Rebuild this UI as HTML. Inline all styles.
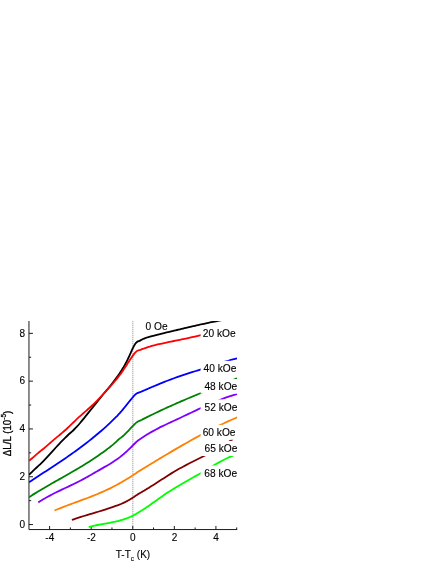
<!DOCTYPE html>
<html><head><meta charset="utf-8"><title>plot</title>
<style>
html,body{margin:0;padding:0;background:#fff;}
body{width:436px;height:564px;overflow:hidden;position:relative;}
svg{position:absolute;left:0;top:0;will-change:transform;}
text{font-family:"Liberation Sans",sans-serif;font-size:10px;fill:#000;stroke:#000;stroke-width:0.12px;}
.cl{font-size:10.2px;}
</style></head><body>
<svg width="436" height="564" viewBox="0 0 436 564">
<defs><clipPath id="plot"><rect x="28.96" y="321.00" width="208.24" height="208.55"/></clipPath></defs>
<line x1="132.80" y1="321.00" x2="132.80" y2="529.55" stroke="#ececec" stroke-width="1.5"/>
<line x1="132.80" y1="321.00" x2="132.80" y2="529.55" stroke="#b8b8b8" stroke-width="1.1" stroke-dasharray="1 1"/>
<path d="M28.96 321.00 V529.55 H237.20 M28.96 524.55 h4.00 M28.96 500.65 h2.20 M28.96 476.75 h4.00 M28.96 452.85 h2.20 M28.96 428.95 h4.00 M28.96 405.05 h2.20 M28.96 381.15 h4.00 M28.96 357.25 h2.20 M28.96 333.35 h4.00 M49.59 529.55 v-3.60 M70.38 529.55 v-2.10 M91.17 529.55 v-3.60 M111.96 529.55 v-2.10 M132.75 529.55 v-3.60 M153.54 529.55 v-2.10 M174.33 529.55 v-3.60 M195.12 529.55 v-2.10 M215.91 529.55 v-3.60 M236.70 529.55 v-2.10" stroke="#1c1c1c" stroke-width="1" fill="none"/>
<g clip-path="url(#plot)" fill="none" stroke-width="1.8" stroke-linejoin="round" stroke-linecap="butt">
<path d="M29.10 474.79 C29.60 474.29 31.10 472.78 32.10 471.81 C33.10 470.84 34.10 469.89 35.10 468.95 C36.10 468.00 37.10 467.08 38.10 466.14 C39.10 465.19 40.10 464.25 41.10 463.28 C42.10 462.31 43.10 461.32 44.10 460.30 C45.10 459.28 46.10 458.22 47.10 457.15 C48.10 456.08 49.10 454.99 50.10 453.89 C51.10 452.79 52.10 451.68 53.10 450.57 C54.10 449.46 55.10 448.35 56.10 447.26 C57.10 446.17 58.10 445.08 59.10 444.02 C60.10 442.95 61.10 441.90 62.10 440.87 C63.10 439.84 64.10 438.83 65.10 437.85 C66.10 436.87 67.10 435.92 68.10 434.99 C69.10 434.06 70.10 433.20 71.10 432.28 C72.10 431.36 73.10 430.47 74.10 429.49 C75.10 428.51 76.10 427.48 77.10 426.40 C78.10 425.32 79.10 424.16 80.10 422.99 C81.10 421.82 82.10 420.59 83.10 419.37 C84.10 418.15 85.10 416.89 86.10 415.65 C87.10 414.40 88.10 413.15 89.10 411.90 C90.10 410.65 91.10 409.38 92.10 408.13 C93.10 406.88 94.10 405.63 95.10 404.38 C96.10 403.13 97.10 401.88 98.10 400.64 C99.10 399.40 100.10 398.17 101.10 396.95 C102.10 395.73 103.10 394.51 104.10 393.30 C105.10 392.09 106.10 390.90 107.10 389.70 C108.10 388.50 109.10 387.31 110.10 386.08 C111.10 384.85 112.10 383.61 113.10 382.33 C114.10 381.05 115.28 379.49 116.10 378.39 C116.92 377.29 117.52 376.42 118.00 375.74 C118.48 375.06 118.67 374.78 119.00 374.29 C119.33 373.80 119.67 373.31 120.00 372.81 C120.33 372.31 120.67 371.79 121.00 371.27 C121.33 370.75 121.67 370.23 122.00 369.69 C122.33 369.15 122.67 368.61 123.00 368.06 C123.33 367.51 123.67 366.94 124.00 366.37 C124.33 365.80 124.67 365.21 125.00 364.61 C125.33 364.01 125.67 363.40 126.00 362.77 C126.33 362.14 126.67 361.50 127.00 360.84 C127.33 360.18 127.67 359.51 128.00 358.81 C128.33 358.11 128.67 357.39 129.00 356.66 C129.33 355.93 129.67 355.18 130.00 354.43 C130.33 353.68 130.67 352.93 131.00 352.18 C131.33 351.44 131.67 350.68 132.00 349.96 C132.33 349.24 132.67 348.53 133.00 347.86 C133.33 347.19 133.67 346.53 134.00 345.92 C134.33 345.31 134.67 344.73 135.00 344.22 C135.33 343.71 135.67 343.24 136.00 342.85 C136.33 342.47 136.67 342.16 137.00 341.91 C137.33 341.66 137.67 341.51 138.00 341.37 C138.33 341.23 138.67 341.16 139.00 341.04 C139.33 340.92 139.67 340.83 140.00 340.67 C140.33 340.51 140.67 340.31 141.00 340.11 C141.33 339.92 141.67 339.68 142.00 339.50 C142.33 339.32 142.67 339.18 143.00 339.03 C143.33 338.88 143.67 338.75 144.00 338.61 C144.33 338.47 144.67 338.34 145.00 338.21 C145.33 338.08 145.67 337.97 146.00 337.85 C146.33 337.74 146.67 337.63 147.00 337.52 C147.33 337.41 147.67 337.31 148.00 337.21 C148.33 337.11 148.67 337.01 149.00 336.91 C149.33 336.81 149.33 336.81 150.00 336.63 C150.67 336.45 152.00 336.10 153.00 335.84 C154.00 335.58 155.00 335.31 156.00 335.06 C157.00 334.81 158.00 334.56 159.00 334.31 C160.00 334.06 161.00 333.81 162.00 333.57 C163.00 333.32 164.00 333.08 165.00 332.84 C166.00 332.60 167.00 332.37 168.00 332.13 C169.00 331.89 170.00 331.66 171.00 331.42 C172.00 331.18 173.00 330.95 174.00 330.71 C175.00 330.47 176.00 330.24 177.00 330.00 C178.00 329.76 179.00 329.54 180.00 329.30 C181.00 329.06 182.00 328.83 183.00 328.59 C184.00 328.35 185.00 328.12 186.00 327.88 C187.00 327.64 188.00 327.41 189.00 327.18 C190.00 326.95 191.00 326.71 192.00 326.48 C193.00 326.25 194.00 326.02 195.00 325.79 C196.00 325.56 197.00 325.34 198.00 325.11 C199.00 324.88 200.00 324.66 201.00 324.44 C202.00 324.22 203.00 324.00 204.00 323.78 C205.00 323.56 206.00 323.34 207.00 323.13 C208.00 322.92 209.00 322.70 210.00 322.49 C211.00 322.28 212.00 322.07 213.00 321.87 C214.00 321.67 215.00 321.47 216.00 321.27 C217.00 321.07 218.00 320.88 219.00 320.69 C220.00 320.50 221.00 320.31 222.00 320.13 C223.00 319.95 224.00 319.77 225.00 319.59 C226.00 319.41 227.00 319.24 228.00 319.07 C229.00 318.90 230.00 318.74 231.00 318.58 C232.00 318.42 233.00 318.27 234.00 318.12 C235.00 317.97 236.50 317.75 237.00 317.68" stroke="#000000"/>
<path d="M29.10 460.73 C29.60 460.32 31.10 459.12 32.10 458.28 C33.10 457.43 34.10 456.53 35.10 455.66 C36.10 454.79 37.10 453.91 38.10 453.07 C39.10 452.23 40.10 451.44 41.10 450.63 C42.10 449.82 43.10 449.02 44.10 448.19 C45.10 447.36 46.10 446.50 47.10 445.64 C48.10 444.78 49.10 443.90 50.10 443.03 C51.10 442.16 52.10 441.28 53.10 440.42 C54.10 439.56 55.10 438.70 56.10 437.87 C57.10 437.04 58.10 436.24 59.10 435.42 C60.10 434.60 61.10 433.79 62.10 432.93 C63.10 432.07 64.10 431.19 65.10 430.28 C66.10 429.37 67.10 428.43 68.10 427.49 C69.10 426.55 70.10 425.58 71.10 424.62 C72.10 423.66 73.10 422.69 74.10 421.74 C75.10 420.79 76.10 419.82 77.10 418.89 C78.10 417.95 79.10 417.03 80.10 416.13 C81.10 415.23 82.10 414.36 83.10 413.48 C84.10 412.60 85.10 411.75 86.10 410.87 C87.10 409.99 88.10 409.12 89.10 408.22 C90.10 407.32 91.10 406.41 92.10 405.47 C93.10 404.53 94.10 403.56 95.10 402.57 C96.10 401.58 97.10 400.57 98.10 399.54 C99.10 398.51 100.10 397.46 101.10 396.40 C102.10 395.34 103.10 394.27 104.10 393.19 C105.10 392.11 106.10 391.01 107.10 389.92 C108.10 388.83 109.10 387.73 110.10 386.62 C111.10 385.51 112.10 384.40 113.10 383.25 C114.10 382.10 115.28 380.71 116.10 379.73 C116.92 378.75 117.52 377.99 118.00 377.38 C118.48 376.77 118.67 376.52 119.00 376.09 C119.33 375.65 119.67 375.22 120.00 374.77 C120.33 374.32 120.67 373.86 121.00 373.40 C121.33 372.94 121.67 372.47 122.00 371.99 C122.33 371.51 122.67 371.03 123.00 370.54 C123.33 370.05 123.67 369.55 124.00 369.04 C124.33 368.54 124.67 368.02 125.00 367.51 C125.33 367.00 125.67 366.47 126.00 365.95 C126.33 365.43 126.67 364.91 127.00 364.39 C127.33 363.87 127.67 363.35 128.00 362.83 C128.33 362.31 128.67 361.79 129.00 361.28 C129.33 360.77 129.67 360.25 130.00 359.75 C130.33 359.25 130.67 358.74 131.00 358.25 C131.33 357.76 131.67 357.27 132.00 356.79 C132.33 356.31 132.67 355.84 133.00 355.39 C133.33 354.94 133.67 354.49 134.00 354.07 C134.33 353.65 134.67 353.24 135.00 352.86 C135.33 352.48 135.67 352.11 136.00 351.80 C136.33 351.49 136.67 351.22 137.00 351.01 C137.33 350.80 137.67 350.66 138.00 350.53 C138.33 350.40 138.67 350.34 139.00 350.25 C139.33 350.16 139.67 350.10 140.00 350.00 C140.33 349.90 140.67 349.78 141.00 349.65 C141.33 349.52 141.67 349.34 142.00 349.21 C142.33 349.07 142.67 348.96 143.00 348.84 C143.33 348.72 143.67 348.59 144.00 348.47 C144.33 348.35 144.67 348.24 145.00 348.12 C145.33 348.00 145.67 347.89 146.00 347.78 C146.33 347.67 146.67 347.56 147.00 347.45 C147.33 347.34 147.67 347.23 148.00 347.13 C148.33 347.03 148.67 346.93 149.00 346.83 C149.33 346.73 149.33 346.72 150.00 346.53 C150.67 346.34 152.00 345.96 153.00 345.69 C154.00 345.42 155.00 345.17 156.00 344.92 C157.00 344.67 158.00 344.43 159.00 344.20 C160.00 343.97 161.00 343.75 162.00 343.53 C163.00 343.31 164.00 343.09 165.00 342.88 C166.00 342.67 167.00 342.45 168.00 342.24 C169.00 342.03 170.00 341.83 171.00 341.62 C172.00 341.41 173.00 341.20 174.00 341.00 C175.00 340.80 176.00 340.59 177.00 340.39 C178.00 340.19 179.00 339.99 180.00 339.78 C181.00 339.57 182.00 339.36 183.00 339.15 C184.00 338.94 185.00 338.73 186.00 338.52 C187.00 338.31 188.00 338.10 189.00 337.88 C190.00 337.66 191.00 337.44 192.00 337.22 C193.00 337.00 194.00 336.77 195.00 336.54 C196.00 336.31 197.00 336.07 198.00 335.83 C199.00 335.59 200.00 335.34 201.00 335.09 C202.00 334.84 203.17 334.54 204.00 334.32 C204.83 334.10 205.67 333.87 206.00 333.78" stroke="#ff0000"/>
<path d="M29.10 482.22 C29.60 481.89 31.10 480.89 32.10 480.23 C33.10 479.57 34.10 478.91 35.10 478.25 C36.10 477.59 37.10 476.93 38.10 476.28 C39.10 475.62 40.10 474.97 41.10 474.32 C42.10 473.67 43.10 473.01 44.10 472.36 C45.10 471.71 46.10 471.05 47.10 470.40 C48.10 469.75 49.10 469.09 50.10 468.43 C51.10 467.77 52.10 467.12 53.10 466.46 C54.10 465.80 55.10 465.13 56.10 464.47 C57.10 463.81 58.10 463.14 59.10 462.47 C60.10 461.80 61.10 461.13 62.10 460.45 C63.10 459.77 64.10 459.09 65.10 458.41 C66.10 457.73 67.10 457.04 68.10 456.35 C69.10 455.66 70.10 454.95 71.10 454.25 C72.10 453.55 73.10 452.84 74.10 452.12 C75.10 451.40 76.10 450.69 77.10 449.96 C78.10 449.23 79.10 448.50 80.10 447.76 C81.10 447.02 82.10 446.27 83.10 445.52 C84.10 444.76 85.10 444.00 86.10 443.23 C87.10 442.46 88.10 441.68 89.10 440.89 C90.10 440.10 91.10 439.30 92.10 438.49 C93.10 437.68 94.10 436.87 95.10 436.04 C96.10 435.21 97.10 434.38 98.10 433.53 C99.10 432.68 100.10 431.83 101.10 430.96 C102.10 430.09 103.10 429.21 104.10 428.32 C105.10 427.43 106.10 426.54 107.10 425.62 C108.10 424.70 109.10 423.77 110.10 422.83 C111.10 421.89 112.10 420.95 113.10 419.97 C114.10 418.99 115.28 417.80 116.10 416.97 C116.92 416.14 117.52 415.49 118.00 414.98 C118.48 414.47 118.67 414.27 119.00 413.91 C119.33 413.55 119.67 413.17 120.00 412.80 C120.33 412.43 120.67 412.05 121.00 411.67 C121.33 411.29 121.67 410.90 122.00 410.51 C122.33 410.12 122.67 409.73 123.00 409.33 C123.33 408.93 123.67 408.53 124.00 408.12 C124.33 407.71 124.67 407.30 125.00 406.89 C125.33 406.48 125.67 406.07 126.00 405.65 C126.33 405.23 126.67 404.81 127.00 404.39 C127.33 403.97 127.67 403.55 128.00 403.13 C128.33 402.71 128.67 402.28 129.00 401.86 C129.33 401.44 129.67 401.03 130.00 400.61 C130.33 400.19 130.67 399.78 131.00 399.37 C131.33 398.96 131.67 398.56 132.00 398.17 C132.33 397.78 132.67 397.40 133.00 397.03 C133.33 396.66 133.67 396.30 134.00 395.96 C134.33 395.62 134.67 395.29 135.00 394.97 C135.33 394.66 135.67 394.34 136.00 394.07 C136.33 393.80 136.67 393.56 137.00 393.35 C137.33 393.14 137.67 392.98 138.00 392.83 C138.33 392.68 138.67 392.58 139.00 392.46 C139.33 392.34 139.67 392.25 140.00 392.13 C140.33 392.01 140.67 391.89 141.00 391.76 C141.33 391.63 141.67 391.47 142.00 391.33 C142.33 391.19 142.67 391.04 143.00 390.90 C143.33 390.75 143.67 390.61 144.00 390.46 C144.33 390.31 144.67 390.16 145.00 390.02 C145.33 389.88 145.67 389.73 146.00 389.59 C146.33 389.44 146.67 389.29 147.00 389.15 C147.33 389.00 147.67 388.86 148.00 388.72 C148.33 388.58 148.67 388.43 149.00 388.29 C149.33 388.15 149.33 388.15 150.00 387.86 C150.67 387.57 152.00 387.00 153.00 386.57 C154.00 386.14 155.00 385.73 156.00 385.31 C157.00 384.89 158.00 384.47 159.00 384.06 C160.00 383.65 161.00 383.23 162.00 382.83 C163.00 382.43 164.00 382.03 165.00 381.64 C166.00 381.25 167.00 380.85 168.00 380.47 C169.00 380.09 170.00 379.71 171.00 379.34 C172.00 378.97 173.00 378.61 174.00 378.25 C175.00 377.89 176.00 377.54 177.00 377.19 C178.00 376.84 179.00 376.49 180.00 376.15 C181.00 375.81 182.00 375.47 183.00 375.14 C184.00 374.81 185.00 374.48 186.00 374.15 C187.00 373.82 188.00 373.49 189.00 373.17 C190.00 372.85 191.00 372.53 192.00 372.21 C193.00 371.89 194.00 371.57 195.00 371.25 C196.00 370.93 197.00 370.61 198.00 370.29 C199.00 369.97 200.00 369.65 201.00 369.33 C202.00 369.01 203.00 368.68 204.00 368.36 C205.00 368.04 206.00 367.71 207.00 367.39 C208.00 367.07 209.00 366.75 210.00 366.43 C211.00 366.11 212.00 365.78 213.00 365.46 C214.00 365.14 215.00 364.82 216.00 364.51 C217.00 364.19 218.00 363.88 219.00 363.57 C220.00 363.26 221.00 362.95 222.00 362.64 C223.00 362.33 224.00 362.03 225.00 361.73 C226.00 361.43 227.00 361.13 228.00 360.84 C229.00 360.55 230.00 360.25 231.00 359.97 C232.00 359.69 233.00 359.41 234.00 359.14 C235.00 358.87 236.50 358.47 237.00 358.34" stroke="#0000ff"/>
<path d="M29.10 497.26 C29.60 496.93 31.10 495.94 32.10 495.29 C33.10 494.64 34.10 494.01 35.10 493.38 C36.10 492.75 37.10 492.12 38.10 491.51 C39.10 490.89 40.10 490.29 41.10 489.69 C42.10 489.09 43.10 488.50 44.10 487.91 C45.10 487.32 46.10 486.74 47.10 486.16 C48.10 485.58 49.10 485.00 50.10 484.43 C51.10 483.86 52.10 483.30 53.10 482.73 C54.10 482.17 55.10 481.60 56.10 481.04 C57.10 480.48 58.10 479.91 59.10 479.35 C60.10 478.79 61.10 478.23 62.10 477.67 C63.10 477.11 64.10 476.54 65.10 475.98 C66.10 475.42 67.10 474.86 68.10 474.29 C69.10 473.72 70.10 473.15 71.10 472.58 C72.10 472.00 73.10 471.42 74.10 470.84 C75.10 470.26 76.10 469.67 77.10 469.08 C78.10 468.49 79.10 467.90 80.10 467.29 C81.10 466.69 82.10 466.07 83.10 465.45 C84.10 464.83 85.10 464.21 86.10 463.58 C87.10 462.95 88.10 462.31 89.10 461.66 C90.10 461.02 91.10 460.37 92.10 459.71 C93.10 459.05 94.10 458.38 95.10 457.70 C96.10 457.02 97.10 456.34 98.10 455.65 C99.10 454.96 100.10 454.26 101.10 453.55 C102.10 452.84 103.10 452.13 104.10 451.40 C105.10 450.67 106.10 449.94 107.10 449.19 C108.10 448.44 109.10 447.70 110.10 446.93 C111.10 446.16 112.10 445.41 113.10 444.57 C114.10 443.73 115.28 442.64 116.10 441.88 C116.92 441.12 117.52 440.47 118.00 440.02 C118.48 439.57 118.67 439.43 119.00 439.16 C119.33 438.89 119.67 438.64 120.00 438.39 C120.33 438.14 120.67 437.89 121.00 437.64 C121.33 437.38 121.67 437.13 122.00 436.86 C122.33 436.59 122.67 436.30 123.00 436.01 C123.33 435.72 123.67 435.42 124.00 435.11 C124.33 434.80 124.67 434.49 125.00 434.17 C125.33 433.85 125.67 433.52 126.00 433.18 C126.33 432.84 126.67 432.50 127.00 432.15 C127.33 431.80 127.67 431.45 128.00 431.10 C128.33 430.75 128.67 430.39 129.00 430.03 C129.33 429.67 129.67 429.30 130.00 428.94 C130.33 428.58 130.67 428.22 131.00 427.86 C131.33 427.50 131.67 427.14 132.00 426.79 C132.33 426.44 132.67 426.09 133.00 425.75 C133.33 425.41 133.67 425.08 134.00 424.75 C134.33 424.42 134.67 424.10 135.00 423.79 C135.33 423.48 135.67 423.17 136.00 422.90 C136.33 422.62 136.67 422.37 137.00 422.14 C137.33 421.91 137.67 421.71 138.00 421.53 C138.33 421.35 138.67 421.20 139.00 421.05 C139.33 420.90 139.67 420.77 140.00 420.62 C140.33 420.47 140.67 420.33 141.00 420.17 C141.33 420.01 141.67 419.85 142.00 419.68 C142.33 419.51 142.67 419.33 143.00 419.16 C143.33 418.99 143.67 418.82 144.00 418.65 C144.33 418.48 144.67 418.32 145.00 418.15 C145.33 417.98 145.67 417.81 146.00 417.64 C146.33 417.47 146.67 417.31 147.00 417.14 C147.33 416.97 147.67 416.81 148.00 416.64 C148.33 416.47 148.67 416.31 149.00 416.15 C149.33 415.99 149.33 415.99 150.00 415.66 C150.67 415.33 152.00 414.68 153.00 414.19 C154.00 413.70 155.00 413.23 156.00 412.75 C157.00 412.27 158.00 411.79 159.00 411.32 C160.00 410.85 161.00 410.38 162.00 409.92 C163.00 409.46 164.00 408.99 165.00 408.53 C166.00 408.07 167.00 407.62 168.00 407.17 C169.00 406.72 170.00 406.26 171.00 405.81 C172.00 405.36 173.00 404.92 174.00 404.48 C175.00 404.04 176.00 403.60 177.00 403.16 C178.00 402.72 179.00 402.29 180.00 401.85 C181.00 401.42 182.00 400.98 183.00 400.55 C184.00 400.12 185.00 399.69 186.00 399.27 C187.00 398.84 188.00 398.42 189.00 398.00 C190.00 397.58 191.00 397.15 192.00 396.73 C193.00 396.31 194.00 395.90 195.00 395.48 C196.00 395.06 197.00 394.65 198.00 394.23 C199.00 393.81 200.00 393.40 201.00 392.99 C202.00 392.58 203.00 392.16 204.00 391.75 C205.00 391.34 206.00 390.93 207.00 390.52 C208.00 390.11 209.00 389.70 210.00 389.29 C211.00 388.88 212.00 388.47 213.00 388.06 C214.00 387.65 215.00 387.25 216.00 386.84 C217.00 386.43 218.00 386.02 219.00 385.61 C220.00 385.20 221.00 384.80 222.00 384.39 C223.00 383.98 224.00 383.57 225.00 383.16 C226.00 382.75 227.00 382.34 228.00 381.93 C229.00 381.52 230.00 381.11 231.00 380.70 C232.00 380.29 233.00 379.87 234.00 379.46 C235.00 379.05 236.50 378.43 237.00 378.22" stroke="#008000"/>
<path d="M38.30 502.37 C38.80 502.05 40.30 501.09 41.30 500.47 C42.30 499.86 43.30 499.26 44.30 498.68 C45.30 498.10 46.30 497.53 47.30 496.98 C48.30 496.43 49.30 495.89 50.30 495.36 C51.30 494.83 52.30 494.32 53.30 493.81 C54.30 493.30 55.30 492.80 56.30 492.31 C57.30 491.82 58.30 491.34 59.30 490.86 C60.30 490.38 61.30 489.91 62.30 489.43 C63.30 488.95 64.30 488.48 65.30 488.01 C66.30 487.54 67.30 487.07 68.30 486.60 C69.30 486.13 70.30 485.66 71.30 485.18 C72.30 484.70 73.30 484.22 74.30 483.73 C75.30 483.24 76.30 482.75 77.30 482.24 C78.30 481.73 79.30 481.21 80.30 480.69 C81.30 480.17 82.30 479.64 83.30 479.10 C84.30 478.56 85.30 478.01 86.30 477.46 C87.30 476.91 88.30 476.34 89.30 475.78 C90.30 475.21 91.30 474.64 92.30 474.07 C93.30 473.50 94.30 472.92 95.30 472.34 C96.30 471.76 97.30 471.19 98.30 470.61 C99.30 470.03 100.30 469.45 101.30 468.87 C102.30 468.29 103.30 467.72 104.30 467.15 C105.30 466.58 106.30 466.01 107.30 465.43 C108.30 464.85 109.30 464.27 110.30 463.67 C111.30 463.07 112.30 462.45 113.30 461.81 C114.30 461.17 115.52 460.35 116.30 459.82 C117.08 459.29 117.55 458.94 118.00 458.61 C118.45 458.28 118.67 458.11 119.00 457.86 C119.33 457.61 119.67 457.35 120.00 457.09 C120.33 456.83 120.67 456.57 121.00 456.30 C121.33 456.03 121.67 455.75 122.00 455.48 C122.33 455.21 122.67 454.93 123.00 454.65 C123.33 454.37 123.67 454.08 124.00 453.79 C124.33 453.50 124.67 453.21 125.00 452.91 C125.33 452.61 125.67 452.31 126.00 452.01 C126.33 451.71 126.67 451.41 127.00 451.10 C127.33 450.79 127.67 450.48 128.00 450.16 C128.33 449.85 128.67 449.53 129.00 449.21 C129.33 448.89 129.67 448.57 130.00 448.25 C130.33 447.93 130.67 447.59 131.00 447.26 C131.33 446.93 131.67 446.59 132.00 446.26 C132.33 445.93 132.67 445.59 133.00 445.25 C133.33 444.91 133.67 444.57 134.00 444.24 C134.33 443.91 134.67 443.58 135.00 443.25 C135.33 442.92 135.67 442.58 136.00 442.26 C136.33 441.94 136.67 441.63 137.00 441.34 C137.33 441.05 137.67 440.78 138.00 440.52 C138.33 440.26 138.67 440.03 139.00 439.80 C139.33 439.57 139.67 439.36 140.00 439.14 C140.33 438.92 140.67 438.70 141.00 438.48 C141.33 438.26 141.67 438.03 142.00 437.81 C142.33 437.59 142.67 437.36 143.00 437.14 C143.33 436.92 143.67 436.70 144.00 436.48 C144.33 436.26 144.67 436.05 145.00 435.84 C145.33 435.63 145.67 435.42 146.00 435.21 C146.33 435.00 146.67 434.79 147.00 434.59 C147.33 434.38 147.67 434.18 148.00 433.98 C148.33 433.78 148.67 433.58 149.00 433.38 C149.33 433.18 149.33 433.17 150.00 432.79 C150.67 432.41 152.00 431.64 153.00 431.09 C154.00 430.54 155.00 430.00 156.00 429.47 C157.00 428.94 158.00 428.43 159.00 427.92 C160.00 427.41 161.00 426.92 162.00 426.43 C163.00 425.94 164.00 425.46 165.00 424.98 C166.00 424.50 167.00 424.03 168.00 423.56 C169.00 423.09 170.00 422.62 171.00 422.15 C172.00 421.68 173.00 421.22 174.00 420.76 C175.00 420.30 176.00 419.83 177.00 419.36 C178.00 418.89 179.00 418.42 180.00 417.95 C181.00 417.48 182.00 417.00 183.00 416.52 C184.00 416.04 185.00 415.58 186.00 415.10 C187.00 414.62 188.00 414.15 189.00 413.67 C190.00 413.19 191.00 412.72 192.00 412.24 C193.00 411.76 194.00 411.29 195.00 410.82 C196.00 410.35 197.00 409.88 198.00 409.41 C199.00 408.94 200.00 408.48 201.00 408.02 C202.00 407.56 203.00 407.09 204.00 406.64 C205.00 406.19 206.00 405.74 207.00 405.29 C208.00 404.85 209.00 404.41 210.00 403.97 C211.00 403.54 212.00 403.10 213.00 402.68 C214.00 402.26 215.00 401.84 216.00 401.43 C217.00 401.02 218.00 400.61 219.00 400.21 C220.00 399.81 221.00 399.43 222.00 399.05 C223.00 398.67 224.00 398.30 225.00 397.93 C226.00 397.56 227.00 397.21 228.00 396.86 C229.00 396.51 230.00 396.18 231.00 395.85 C232.00 395.53 233.00 395.21 234.00 394.91 C235.00 394.61 236.42 394.20 237.00 394.03 C237.58 393.86 237.42 393.91 237.50 393.89" stroke="#8000ff"/>
<path d="M54.50 510.52 C55.00 510.31 56.50 509.67 57.50 509.26 C58.50 508.85 59.50 508.45 60.50 508.05 C61.50 507.65 62.50 507.26 63.50 506.87 C64.50 506.48 65.50 506.10 66.50 505.72 C67.50 505.34 68.50 504.97 69.50 504.60 C70.50 504.23 71.50 503.87 72.50 503.50 C73.50 503.13 74.50 502.76 75.50 502.40 C76.50 502.03 77.50 501.67 78.50 501.31 C79.50 500.95 80.50 500.59 81.50 500.22 C82.50 499.86 83.50 499.49 84.50 499.12 C85.50 498.75 86.50 498.38 87.50 498.00 C88.50 497.62 89.50 497.24 90.50 496.85 C91.50 496.46 92.50 496.08 93.50 495.68 C94.50 495.28 95.50 494.87 96.50 494.46 C97.50 494.05 98.50 493.63 99.50 493.20 C100.50 492.77 101.50 492.33 102.50 491.89 C103.50 491.44 104.50 490.99 105.50 490.53 C106.50 490.06 107.50 489.59 108.50 489.10 C109.50 488.61 110.50 488.12 111.50 487.61 C112.50 487.10 113.50 486.59 114.50 486.06 C115.50 485.53 116.92 484.76 117.50 484.45 C118.08 484.14 117.75 484.32 118.00 484.18 C118.25 484.04 118.67 483.81 119.00 483.62 C119.33 483.43 119.67 483.25 120.00 483.06 C120.33 482.87 120.67 482.69 121.00 482.50 C121.33 482.31 121.67 482.12 122.00 481.93 C122.33 481.74 122.67 481.55 123.00 481.35 C123.33 481.16 123.67 480.96 124.00 480.76 C124.33 480.56 124.67 480.37 125.00 480.17 C125.33 479.97 125.67 479.77 126.00 479.57 C126.33 479.37 126.67 479.17 127.00 478.97 C127.33 478.77 127.67 478.56 128.00 478.36 C128.33 478.16 128.67 477.95 129.00 477.74 C129.33 477.53 129.67 477.33 130.00 477.12 C130.33 476.91 130.67 476.70 131.00 476.49 C131.33 476.28 131.67 476.06 132.00 475.85 C132.33 475.64 132.67 475.42 133.00 475.21 C133.33 475.00 133.67 474.78 134.00 474.56 C134.33 474.34 134.67 474.12 135.00 473.90 C135.33 473.68 135.67 473.46 136.00 473.23 C136.33 473.00 136.67 472.77 137.00 472.54 C137.33 472.31 137.67 472.08 138.00 471.86 C138.33 471.64 138.67 471.41 139.00 471.20 C139.33 470.99 139.67 470.78 140.00 470.57 C140.33 470.36 140.67 470.16 141.00 469.96 C141.33 469.76 141.67 469.56 142.00 469.36 C142.33 469.16 142.67 468.95 143.00 468.75 C143.33 468.55 143.67 468.34 144.00 468.14 C144.33 467.94 144.67 467.73 145.00 467.53 C145.33 467.33 145.67 467.12 146.00 466.92 C146.33 466.72 146.67 466.51 147.00 466.31 C147.33 466.11 147.67 465.90 148.00 465.70 C148.33 465.50 148.67 465.29 149.00 465.09 C149.33 464.89 149.33 464.89 150.00 464.49 C150.67 464.09 152.00 463.28 153.00 462.67 C154.00 462.06 155.00 461.46 156.00 460.85 C157.00 460.25 158.00 459.64 159.00 459.04 C160.00 458.44 161.00 457.83 162.00 457.23 C163.00 456.63 164.00 456.04 165.00 455.44 C166.00 454.84 167.00 454.25 168.00 453.65 C169.00 453.05 170.00 452.46 171.00 451.87 C172.00 451.28 173.00 450.69 174.00 450.10 C175.00 449.51 176.00 448.93 177.00 448.35 C178.00 447.77 179.00 447.19 180.00 446.61 C181.00 446.03 182.00 445.45 183.00 444.88 C184.00 444.31 185.00 443.73 186.00 443.16 C187.00 442.59 188.00 442.03 189.00 441.47 C190.00 440.91 191.00 440.35 192.00 439.79 C193.00 439.23 194.00 438.68 195.00 438.13 C196.00 437.58 197.00 437.03 198.00 436.49 C199.00 435.95 200.00 435.41 201.00 434.87 C202.00 434.33 203.00 433.80 204.00 433.27 C205.00 432.74 206.00 432.21 207.00 431.69 C208.00 431.17 209.00 430.65 210.00 430.14 C211.00 429.63 212.00 429.12 213.00 428.61 C214.00 428.11 215.00 427.61 216.00 427.11 C217.00 426.62 218.00 426.13 219.00 425.64 C220.00 425.15 221.00 424.67 222.00 424.19 C223.00 423.71 224.00 423.25 225.00 422.78 C226.00 422.31 227.00 421.85 228.00 421.39 C229.00 420.93 230.00 420.49 231.00 420.04 C232.00 419.60 233.00 419.16 234.00 418.72 C235.00 418.29 236.50 417.64 237.00 417.43" stroke="#ff8000"/>
<path d="M71.90 519.96 C72.40 519.79 73.90 519.25 74.90 518.91 C75.90 518.57 76.90 518.24 77.90 517.91 C78.90 517.58 79.90 517.26 80.90 516.94 C81.90 516.62 82.90 516.31 83.90 516.00 C84.90 515.69 85.90 515.39 86.90 515.09 C87.90 514.79 88.90 514.49 89.90 514.19 C90.90 513.89 91.90 513.59 92.90 513.29 C93.90 512.99 94.90 512.70 95.90 512.40 C96.90 512.10 97.90 511.80 98.90 511.50 C99.90 511.20 100.90 510.89 101.90 510.58 C102.90 510.27 103.90 509.96 104.90 509.65 C105.90 509.33 106.90 509.02 107.90 508.69 C108.90 508.36 109.90 508.03 110.90 507.69 C111.90 507.35 112.90 507.01 113.90 506.66 C114.90 506.31 116.22 505.82 116.90 505.57 C117.58 505.32 117.65 505.29 118.00 505.16 C118.35 505.03 118.67 504.90 119.00 504.77 C119.33 504.64 119.67 504.50 120.00 504.37 C120.33 504.24 120.67 504.10 121.00 503.96 C121.33 503.82 121.67 503.68 122.00 503.54 C122.33 503.40 122.67 503.25 123.00 503.10 C123.33 502.95 123.67 502.79 124.00 502.63 C124.33 502.47 124.67 502.31 125.00 502.15 C125.33 501.98 125.67 501.81 126.00 501.64 C126.33 501.47 126.67 501.30 127.00 501.12 C127.33 500.94 127.67 500.76 128.00 500.57 C128.33 500.38 128.67 500.19 129.00 500.00 C129.33 499.81 129.67 499.61 130.00 499.41 C130.33 499.21 130.67 499.01 131.00 498.81 C131.33 498.61 131.67 498.40 132.00 498.19 C132.33 497.98 132.67 497.76 133.00 497.55 C133.33 497.34 133.67 497.12 134.00 496.90 C134.33 496.68 134.67 496.46 135.00 496.24 C135.33 496.02 135.67 495.79 136.00 495.56 C136.33 495.33 136.67 495.10 137.00 494.88 C137.33 494.66 137.67 494.44 138.00 494.23 C138.33 494.02 138.67 493.81 139.00 493.61 C139.33 493.41 139.67 493.23 140.00 493.04 C140.33 492.85 140.67 492.66 141.00 492.47 C141.33 492.28 141.67 492.09 142.00 491.90 C142.33 491.71 142.67 491.51 143.00 491.31 C143.33 491.11 143.67 490.91 144.00 490.71 C144.33 490.51 144.67 490.31 145.00 490.11 C145.33 489.91 145.67 489.70 146.00 489.50 C146.33 489.30 146.67 489.09 147.00 488.89 C147.33 488.69 147.67 488.48 148.00 488.28 C148.33 488.07 148.67 487.87 149.00 487.66 C149.33 487.45 149.33 487.46 150.00 487.04 C150.67 486.62 152.00 485.78 153.00 485.15 C154.00 484.51 155.00 483.87 156.00 483.23 C157.00 482.59 158.00 481.94 159.00 481.29 C160.00 480.64 161.00 480.00 162.00 479.35 C163.00 478.71 164.00 478.06 165.00 477.42 C166.00 476.78 167.00 476.14 168.00 475.51 C169.00 474.88 170.00 474.25 171.00 473.63 C172.00 473.01 173.00 472.40 174.00 471.80 C175.00 471.20 176.00 470.61 177.00 470.03 C178.00 469.45 179.00 468.89 180.00 468.33 C181.00 467.77 182.00 467.23 183.00 466.69 C184.00 466.15 185.00 465.62 186.00 465.10 C187.00 464.58 188.00 464.06 189.00 463.55 C190.00 463.04 191.00 462.53 192.00 462.03 C193.00 461.52 194.00 461.02 195.00 460.52 C196.00 460.02 197.00 459.53 198.00 459.03 C199.00 458.53 200.00 458.03 201.00 457.53 C202.00 457.03 203.00 456.53 204.00 456.03 C205.00 455.52 206.00 455.01 207.00 454.50 C208.00 453.99 209.00 453.46 210.00 452.94 C211.00 452.42 212.00 451.89 213.00 451.35 C214.00 450.81 215.00 450.26 216.00 449.70 C217.00 449.14 218.00 448.57 219.00 447.99 C220.00 447.41 221.00 446.82 222.00 446.21 C223.00 445.60 224.00 444.99 225.00 444.35 C226.00 443.72 227.00 443.07 228.00 442.40 C229.00 441.73 230.17 440.93 231.00 440.35 C231.83 439.77 232.67 439.16 233.00 438.92" stroke="#800000"/>
<path d="M88.70 527.15 C89.20 527.01 90.70 526.59 91.70 526.34 C92.70 526.09 93.70 525.85 94.70 525.63 C95.70 525.41 96.70 525.20 97.70 525.00 C98.70 524.80 99.70 524.61 100.70 524.42 C101.70 524.23 102.70 524.05 103.70 523.87 C104.70 523.69 105.70 523.52 106.70 523.34 C107.70 523.16 108.70 522.98 109.70 522.79 C110.70 522.60 111.70 522.41 112.70 522.20 C113.70 522.00 114.82 521.76 115.70 521.56 C116.58 521.36 117.45 521.14 118.00 521.01 C118.55 520.88 118.67 520.85 119.00 520.76 C119.33 520.67 119.67 520.58 120.00 520.49 C120.33 520.40 120.67 520.31 121.00 520.21 C121.33 520.12 121.67 520.02 122.00 519.92 C122.33 519.82 122.67 519.72 123.00 519.61 C123.33 519.50 123.67 519.40 124.00 519.29 C124.33 519.18 124.67 519.08 125.00 518.96 C125.33 518.85 125.67 518.72 126.00 518.60 C126.33 518.48 126.67 518.36 127.00 518.23 C127.33 518.10 127.67 517.97 128.00 517.84 C128.33 517.71 128.67 517.57 129.00 517.43 C129.33 517.29 129.67 517.15 130.00 517.00 C130.33 516.85 130.67 516.70 131.00 516.55 C131.33 516.40 131.67 516.24 132.00 516.08 C132.33 515.92 132.67 515.75 133.00 515.58 C133.33 515.41 133.67 515.25 134.00 515.07 C134.33 514.89 134.67 514.72 135.00 514.53 C135.33 514.34 135.67 514.15 136.00 513.95 C136.33 513.75 136.67 513.55 137.00 513.35 C137.33 513.15 137.67 512.94 138.00 512.74 C138.33 512.54 138.67 512.33 139.00 512.13 C139.33 511.93 139.67 511.73 140.00 511.53 C140.33 511.33 140.67 511.13 141.00 510.93 C141.33 510.73 141.67 510.53 142.00 510.32 C142.33 510.11 142.67 509.90 143.00 509.69 C143.33 509.48 143.67 509.26 144.00 509.04 C144.33 508.82 144.67 508.60 145.00 508.38 C145.33 508.16 145.67 507.94 146.00 507.71 C146.33 507.48 146.67 507.26 147.00 507.03 C147.33 506.80 147.67 506.57 148.00 506.34 C148.33 506.11 148.67 505.88 149.00 505.65 C149.33 505.42 149.33 505.42 150.00 504.95 C150.67 504.48 152.00 503.53 153.00 502.82 C154.00 502.11 155.00 501.39 156.00 500.67 C157.00 499.95 158.00 499.23 159.00 498.52 C160.00 497.81 161.00 497.11 162.00 496.41 C163.00 495.72 164.00 495.03 165.00 494.35 C166.00 493.68 167.00 493.01 168.00 492.36 C169.00 491.71 170.00 491.06 171.00 490.43 C172.00 489.80 173.00 489.18 174.00 488.56 C175.00 487.94 176.00 487.34 177.00 486.74 C178.00 486.14 179.00 485.55 180.00 484.96 C181.00 484.37 182.00 483.80 183.00 483.22 C184.00 482.64 185.00 482.07 186.00 481.50 C187.00 480.93 188.00 480.36 189.00 479.79 C190.00 479.22 191.00 478.66 192.00 478.09 C193.00 477.52 194.00 476.96 195.00 476.39 C196.00 475.82 197.00 475.25 198.00 474.67 C199.00 474.09 200.00 473.51 201.00 472.92 C202.00 472.33 203.00 471.74 204.00 471.14 C205.00 470.54 206.00 469.94 207.00 469.34 C208.00 468.74 209.00 468.14 210.00 467.54 C211.00 466.94 212.00 466.35 213.00 465.76 C214.00 465.17 215.00 464.59 216.00 464.02 C217.00 463.45 218.00 462.89 219.00 462.34 C220.00 461.79 221.00 461.25 222.00 460.72 C223.00 460.20 224.00 459.69 225.00 459.19 C226.00 458.69 227.00 458.21 228.00 457.74 C229.00 457.27 230.00 456.83 231.00 456.39 C232.00 455.95 233.00 455.53 234.00 455.12 C235.00 454.71 236.50 454.14 237.00 453.95" stroke="#00ff00"/>
</g>
<g fill="#fff">
<rect x="200.60" y="325.60" width="41.40" height="14.80"/>
<rect x="200.60" y="360.80" width="41.40" height="14.80"/>
<rect x="200.60" y="379.05" width="41.40" height="14.55"/>
<rect x="200.60" y="399.40" width="41.40" height="15.10"/>
<rect x="200.60" y="424.90" width="41.40" height="14.90"/>
<rect x="200.60" y="440.90" width="41.40" height="15.10"/>
<rect x="200.60" y="465.50" width="41.40" height="15.00"/>
</g>
<text x="25.15" y="527.80" text-anchor="end">0</text>
<text x="25.15" y="480.00" text-anchor="end">2</text>
<text x="25.15" y="432.20" text-anchor="end">4</text>
<text x="25.15" y="384.40" text-anchor="end">6</text>
<text x="25.15" y="336.60" text-anchor="end">8</text>
<text x="49.79" y="541.3" text-anchor="middle">-4</text>
<text x="91.37" y="541.3" text-anchor="middle">-2</text>
<text x="132.85" y="541.3" text-anchor="middle">0</text>
<text x="174.43" y="541.3" text-anchor="middle">2</text>
<text x="216.01" y="541.3" text-anchor="middle">4</text>
<text class="cl" x="145.50" y="329.50">0 Oe</text>
<text class="cl" x="202.80" y="336.60">20 kOe</text>
<text class="cl" x="203.60" y="371.60">40 kOe</text>
<text class="cl" x="204.40" y="390.10">48 kOe</text>
<text class="cl" x="204.60" y="410.60">52 kOe</text>
<text class="cl" x="202.70" y="436.00">60 kOe</text>
<text class="cl" x="204.50" y="451.80">65 kOe</text>
<text class="cl" x="204.30" y="476.50">68 kOe</text>
<text x="115.8" y="558.0">T-T<tspan font-size="6.5px" dy="2.6">c</tspan><tspan dy="-2.6"> (K)</tspan></text>
<text transform="translate(11.3 456.2) rotate(-90) scale(0.975 1)" style="stroke-width:0.3px">&#916;L/L (10<tspan font-size="6.6px" dy="-5.2">-5</tspan><tspan dy="5.2">)</tspan></text>
</svg>
</body></html>
